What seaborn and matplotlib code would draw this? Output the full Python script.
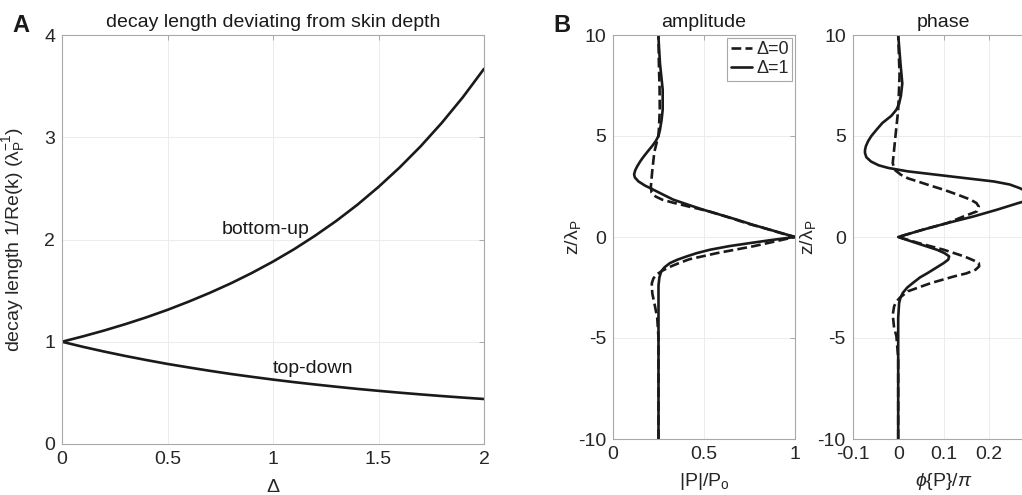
import numpy as np
import pandas as pd
import matplotlib
matplotlib.use("Agg")
import matplotlib.pyplot as plt
from matplotlib.ticker import FuncFormatter
import seaborn as sns

# ---------------- data ----------------
# Panel A: decay length vs Delta
delta = [0.0, 0.1, 0.2, 0.3, 0.4, 0.5, 0.6, 0.7, 0.8, 0.9, 1.0,
         1.1, 1.2, 1.3, 1.4, 1.5, 1.6, 1.7, 1.8, 1.9, 2.0]
bottom_up = [1.000, 1.053, 1.110, 1.172, 1.239, 1.312, 1.392, 1.478, 1.571, 1.673, 1.784,
             1.905, 2.038, 2.182, 2.340, 2.514, 2.704, 2.912, 3.141, 3.392, 3.669]
top_down = [1.000, 0.950, 0.904, 0.861, 0.821, 0.783, 0.749, 0.716, 0.685, 0.657, 0.630,
            0.605, 0.582, 0.560, 0.539, 0.520, 0.502, 0.485, 0.469, 0.454, 0.440]

# Panel B amplitude, Delta = 0 (dashed)
z_amp0 = [10, 8.6, 7.3, 6.3, 5.3, 5.0, 4.2, 3.3, 2.5, 2.2, 2.0, 1.85, 1.7, 1.5, 1.3, 1.1, 0.9,
          0.65, 0.45, 0.2, 0.0, -0.2, -0.46, -0.8, -1.1, -1.3, -1.45, -1.65, -1.85, -2.05,
          -2.3, -2.8, -3.4, -4.0, -5.0, -7.0, -10]
amp0 = [0.250, 0.252, 0.256, 0.257, 0.252, 0.249, 0.227, 0.216, 0.208, 0.212, 0.235, 0.270,
        0.330, 0.420, 0.515, 0.590, 0.660, 0.745, 0.826, 0.920, 1.000, 0.900, 0.770, 0.570,
        0.420, 0.360, 0.320, 0.275, 0.240, 0.222, 0.213, 0.216, 0.230, 0.243, 0.250, 0.250,
        0.250]

# Panel B amplitude, Delta = 1 (solid)
z_amp1 = [10, 8.6, 7.3, 6.3, 5.8, 5.3, 5.0, 4.75, 4.5, 4.25, 4.0, 3.75, 3.5, 3.3, 3.1, 2.95,
          2.75, 2.55, 2.34, 2.1, 1.85, 1.6, 1.35, 1.1, 0.86, 0.6, 0.36, 0.0, -0.15, -0.3,
          -0.45, -0.63, -0.8, -0.96, -1.12, -1.29, -1.5, -1.7, -2.0, -2.4, -3.6, -5.0, -7.0,
          -10]
amp1 = [0.249, 0.258, 0.273, 0.273, 0.267, 0.258, 0.250, 0.235, 0.215, 0.192, 0.170, 0.150,
        0.133, 0.122, 0.116, 0.120, 0.140, 0.175, 0.222, 0.275, 0.331, 0.412, 0.496, 0.590,
        0.680, 0.770, 0.863, 1.000, 0.870, 0.753, 0.640, 0.533, 0.460, 0.405, 0.355, 0.313,
        0.283, 0.265, 0.255, 0.250, 0.250, 0.250, 0.250, 0.250]

# Panel B phase, Delta = 0 (dashed)
z_ph0 = [10, 8.0, 6.3, 5.0, 4.32, 3.66, 3.33, 3.08, 2.9, 2.75, 2.55, 2.34, 2.1, 1.85, 1.68,
         1.51, 1.27, 1.02, 0.69, 0.36, 0.0, -0.3, -0.63, -0.96, -1.15, -1.29, -1.45, -1.62,
         -1.8, -1.95, -2.28, -2.69, -3.02, -3.2, -3.43, -3.85, -4.5, -4.9, -6.0, -10]
ph0 = [0.000, 0.003, 0.000, -0.006, -0.009, -0.012, -0.008, 0.006, 0.022, 0.043, 0.070,
       0.100, 0.130, 0.159, 0.172, 0.177, 0.173, 0.144, 0.108, 0.054, 0.000, 0.045, 0.100,
       0.145, 0.165, 0.177, 0.178, 0.170, 0.150, 0.123, 0.072, 0.021, 0.003, -0.004, -0.009,
       -0.012, -0.009, -0.004, 0.000, 0.000]

# Panel B phase, Delta = 1 (solid)
z_ph1 = [10, 8.6, 7.6, 7.0, 6.6, 6.3, 6.0, 5.64, 5.3, 5.0, 4.75, 4.5, 4.3, 4.16, 3.95, 3.74,
         3.55, 3.42, 3.25, 3.0, 2.75, 2.6, 2.42, 2.2, 2.05, 1.85, 1.68, 1.35, 1.02, 0.69, 0.36,
         0.0, -0.3, -0.63, -0.8, -0.96, -1.12, -1.29, -1.5, -1.78, -2.0, -2.28, -2.5, -2.77,
         -3.0, -3.27, -4.0, -10]
ph1 = [0.000, 0.005, 0.009, 0.006, 0.002, -0.004, -0.015, -0.035, -0.048, -0.059, -0.066,
       -0.071, -0.073, -0.073, -0.070, -0.060, -0.043, -0.022, 0.021, 0.115, 0.210, 0.245,
       0.267, 0.287, 0.296, 0.290, 0.264, 0.217, 0.166, 0.108, 0.054, 0.000, 0.040, 0.085,
       0.102, 0.112, 0.110, 0.100, 0.085, 0.065, 0.048, 0.032, 0.020, 0.010, 0.005, 0.002,
       0.000, 0.000]

legend_labels = ["Δ=0", "Δ=1"]

# ---------------- style ----------------
sns.set_theme(style="white")
plt.rcParams["font.family"] = ["Liberation Sans", "DejaVu Sans"]
plt.rcParams["mathtext.fontset"] = "custom"
plt.rcParams["mathtext.rm"] = "Liberation Sans"
plt.rcParams["mathtext.it"] = "Liberation Sans:italic"
plt.rcParams["mathtext.default"] = "regular"

SPINE = "#a8a8a8"
TXT = "#262626"
GRID = "#ececec"
FS = 14
LW = 1.9

W, H = 1022, 495
fig = plt.figure(figsize=(W / 100, H / 100), dpi=100)
axA = fig.add_axes([62 / W, (H - 444) / H, 422 / W, 409 / H])
axAmp = fig.add_axes([613 / W, (H - 439) / H, 182 / W, 404 / H])
axPh = fig.add_axes([852.7 / W, (H - 439) / H, 182 / W, 404 / H])

fmt = FuncFormatter(lambda v, p: f"{v:g}")


def style_axes(ax):
    for s in ax.spines.values():
        s.set_visible(True)
        s.set_color(SPINE)
        s.set_linewidth(0.8)
    ax.grid(True, color=GRID, lw=0.7)
    ax.set_axisbelow(True)
    ax.tick_params(direction="in", length=3.5, width=0.7, color=SPINE,
                   labelcolor=TXT, labelsize=FS, top=True, right=True, pad=5)
    ax.xaxis.set_major_formatter(fmt)
    ax.yaxis.set_major_formatter(fmt)


# Panel A
dfA = pd.DataFrame({"delta": delta, "bu": bottom_up, "td": top_down})
sns.lineplot(data=dfA, x="delta", y="bu", ax=axA, color="k", lw=LW, estimator=None)
sns.lineplot(data=dfA, x="delta", y="td", ax=axA, color="k", lw=LW, estimator=None)
axA.set_xlim(0, 2)
axA.set_ylim(0, 4)
axA.set_xticks([0, 0.5, 1, 1.5, 2])
axA.set_yticks([0, 1, 2, 3, 4])
style_axes(axA)
axA.set_xlabel("Δ", fontsize=FS, color=TXT, labelpad=8)
axA.set_ylabel(r"decay length 1/Re(k) ($\lambda_P^{-1}$)", fontsize=FS, color=TXT)
axA.yaxis.set_label_coords(-0.083, 0.5)
axA.set_title("decay length deviating from skin depth", fontsize=FS, color="k", pad=6)
axA.text(0.757, 2.10, "bottom-up", fontsize=FS, color="k", ha="left", va="center")
axA.text(1.0, 0.74, "top-down", fontsize=FS, color="k", ha="left", va="center")

# Panel B amplitude
sns.lineplot(x=amp0, y=z_amp0, orient="y", ax=axAmp, color="k", lw=LW,
             linestyle="--", dashes=(3.2, 2.2), estimator=None, label=legend_labels[0])
sns.lineplot(x=amp1, y=z_amp1, orient="y", ax=axAmp, color="k", lw=LW,
             estimator=None, label=legend_labels[1])
axAmp.set_xlim(0, 1)
axAmp.set_ylim(-10, 10)
axAmp.set_xticks([0, 0.5, 1])
axAmp.set_yticks([-10, -5, 0, 5, 10])
style_axes(axAmp)
axAmp.set_xlabel(r"|P|/P$_o$", fontsize=FS, color=TXT, labelpad=6)
axAmp.set_ylabel(r"z/$\lambda_P$", fontsize=FS, color=TXT)
axAmp.yaxis.set_label_coords(-0.165, 0.5)
axAmp.set_title("amplitude", fontsize=FS, color="k", pad=6)
leg = axAmp.legend(loc="upper right", fontsize=FS - 1, handlelength=1.2,
                   handletextpad=0.2, borderpad=0.2, labelspacing=0.1,
                   borderaxespad=0.15, fancybox=False, framealpha=1,
                   edgecolor=SPINE)
leg.get_frame().set_linewidth(0.8)

# Panel B phase
sns.lineplot(x=ph0, y=z_ph0, orient="y", ax=axPh, color="k", lw=LW,
             linestyle="--", dashes=(3.2, 2.2), estimator=None)
sns.lineplot(x=ph1, y=z_ph1, orient="y", ax=axPh, color="k", lw=LW, estimator=None)
axPh.set_xlim(-0.1, 0.3)
axPh.set_ylim(-10, 10)
axPh.set_xticks([-0.1, 0, 0.1, 0.2])
axPh.set_yticks([-10, -5, 0, 5, 10])
style_axes(axPh)
axPh.set_xlabel(r"$\mathit{\phi}${P}/$\mathit{\pi}$", fontsize=FS, color=TXT, labelpad=6)
axPh.set_ylabel(r"z/$\lambda_P$", fontsize=FS, color=TXT)
axPh.yaxis.set_label_coords(-0.19, 0.5)
axPh.set_title("phase", fontsize=FS, color="k", pad=6)

# Panel letters
fig.text(12 / W, 1 - 26 / H, "A", fontsize=17, weight="bold", color="k", va="center")
fig.text(553 / W, 1 - 26 / H, "B", fontsize=17, weight="bold", color="k", va="center")

fig.savefig("out.png", dpi=100)
